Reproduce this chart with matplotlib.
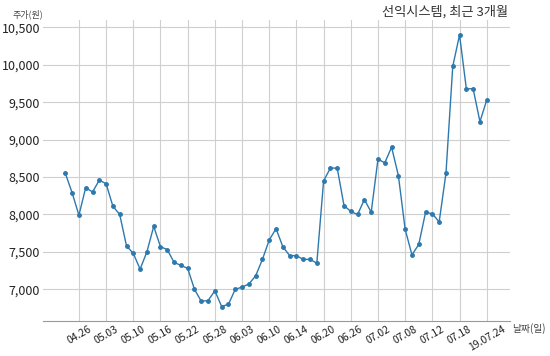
import matplotlib
matplotlib.use('Agg')
import matplotlib.pyplot as plt
from matplotlib.ticker import FuncFormatter

plt.rcParams['font.family'] = ['Noto Sans CJK KR', 'DejaVu Sans']

# trading days (2019), MM.DD
dates = [
    '04.24', '04.25', '04.26', '04.29', '04.30', '05.02', '05.03', '05.07', '05.08', '05.09',
    '05.10', '05.13', '05.14', '05.15', '05.16', '05.17', '05.20', '05.21', '05.22', '05.23',
    '05.24', '05.27', '05.28', '05.29', '05.30', '05.31', '06.03', '06.04', '06.05', '06.07',
    '06.10', '06.11', '06.12', '06.13', '06.14', '06.17', '06.18', '06.19', '06.20', '06.21',
    '06.24', '06.25', '06.26', '06.27', '06.28', '07.01', '07.02', '07.03', '07.04', '07.05',
    '07.08', '07.09', '07.10', '07.11', '07.12', '07.15', '07.16', '07.17', '07.18', '07.19',
    '07.22', '07.23', '07.24',
]
prices = [
    8550, 8290, 7990, 8360, 8300, 8460, 8410, 8110, 8000, 7580,
    7480, 7270, 7500, 7840, 7570, 7530, 7360, 7320, 7280, 7000,
    6840, 6850, 6980, 6770, 6800, 7000, 7030, 7070, 7180, 7400,
    7660, 7810, 7570, 7450, 7450, 7400, 7400, 7350, 8450, 8620,
    8620, 8120, 8040, 8000, 8200, 8030, 8740, 8690, 8900, 8520,
    7800, 7460, 7600, 8030, 8010, 7900, 8550, 9980, 10400, 9680,
    9680, 9240, 9530,
]
tick_dates = ['04.26', '05.03', '05.10', '05.16', '05.22', '05.28', '06.03', '06.10',
              '06.14', '06.20', '06.26', '07.02', '07.08', '07.12', '07.18', '07.24']
tick_labels = tick_dates[:-1] + ['19.07.24']
yticks = [7000, 7500, 8000, 8500, 9000, 9500, 10000, 10500]

x = list(range(len(dates)))
tick_pos = [dates.index(d) for d in tick_dates]

fig = plt.figure(figsize=(5.5, 3.56), dpi=100)
ax = fig.add_axes([0.078, 0.098, 0.849, 0.846])

ax.plot(x, prices, color='#2d79ae', lw=1.0, marker='o', ms=2.5, zorder=3)

ax.set_xlim(-3.3, 65.4)
ax.set_ylim(6575, 10600)
ax.set_xticks(tick_pos)
ax.set_xticklabels(tick_labels, rotation=30, ha='center', fontsize=7.5, color='#222222')
ax.set_yticks(yticks)
ax.yaxis.set_major_formatter(FuncFormatter(lambda v, p: f'{int(v):,}'))
ax.tick_params(axis='y', length=0, pad=2, labelsize=9, labelcolor='#222222')
ax.tick_params(axis='x', length=0, pad=2)
ax.grid(True, color='#cfcfcf', lw=0.8)
ax.set_axisbelow(True)
for side in ['left', 'right', 'top']:
    ax.spines[side].set_visible(False)
ax.spines['bottom'].set_color('#999999')
ax.spines['bottom'].set_linewidth(0.8)

fig.text(508 / 550, 1 - 12 / 356, '선익시스템, 최근 3개월', ha='right', va='center',
         fontsize=9.5, color='#333333')
fig.text(12 / 550, 1 - 14 / 356, '주가(원)', ha='left', va='center', fontsize=6.5, color='#444444')
fig.text(512 / 550, 1 - 329 / 356, '날짜(일)', ha='left', va='center', fontsize=7, color='#444444')

fig.savefig('out.png', dpi=100)
